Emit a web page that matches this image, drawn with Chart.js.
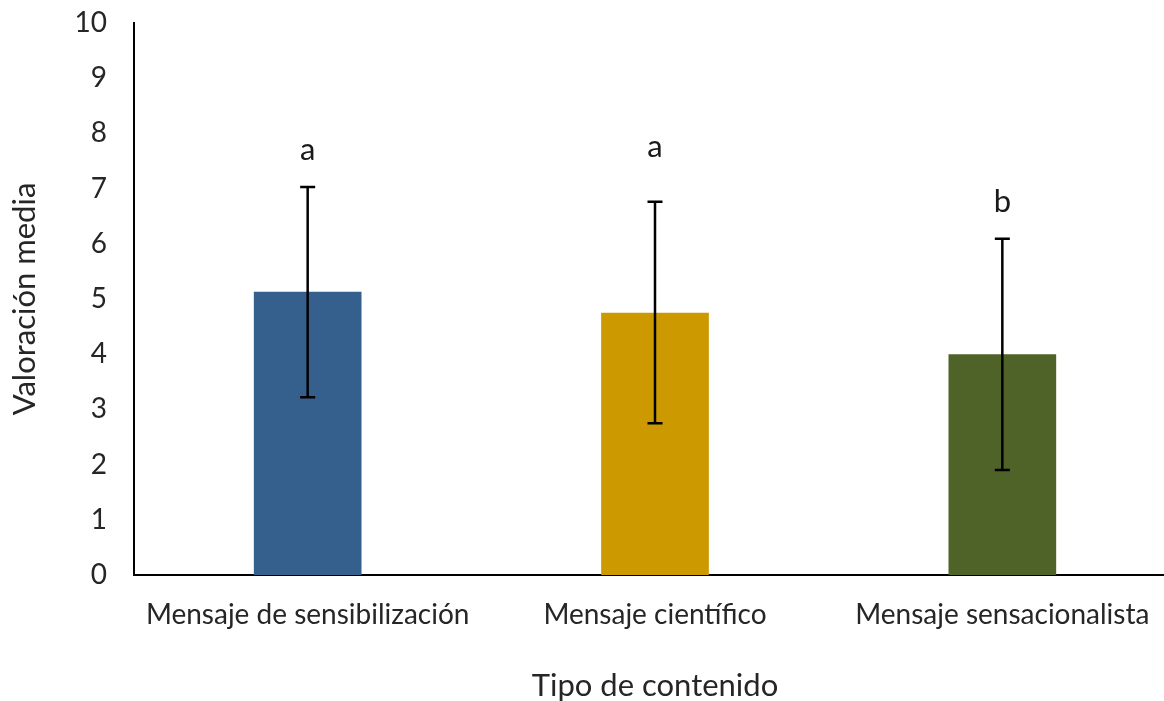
<!DOCTYPE html>
<html>
<head>
<meta charset="utf-8">
<script src="https://cdn.jsdelivr.net/npm/chart.js@4/dist/chart.umd.min.js"></script>
<style>
  html, body { margin: 0; padding: 0; background: #fff; overflow: hidden; }
  #wrap { width: 1176px; height: 701px; }
</style>
</head>
<body>
<div id="wrap"><canvas id="meanChart"></canvas></div>
<script>
// Data
const categories = ["Mensaje de sensibilización", "Mensaje científico", "Mensaje sensacionalista"];
const means = [5.13, 4.75, 4.0];
const errUpper = [7.03, 6.76, 6.09];
const errLower = [3.22, 2.75, 1.90];
const groupLetters = ["a", "a", "b"];
const letterPos = [7.7, 7.75, 6.75];
const barColors = ["#355F8D", "#CC9900", "#4F6228"];

const fontFamily = "Lato, 'Open Sans', sans-serif";

// error bars + significance letters
const errorBarPlugin = {
  id: 'errorBars',
  afterDatasetsDraw(chart) {
    const ctx = chart.ctx;
    const y = chart.scales.y;
    const bars = chart.getDatasetMeta(0).data;
    ctx.save();
    ctx.strokeStyle = '#000';
    ctx.lineWidth = 2.5;
    bars.forEach((bar, i) => {
      const yTop = y.getPixelForValue(errUpper[i]);
      const yBot = y.getPixelForValue(errLower[i]);
      const cap = 7.5;
      ctx.beginPath();
      ctx.moveTo(bar.x, yTop); ctx.lineTo(bar.x, yBot);
      ctx.moveTo(bar.x - cap, yTop); ctx.lineTo(bar.x + cap, yTop);
      ctx.moveTo(bar.x - cap, yBot); ctx.lineTo(bar.x + cap, yBot);
      ctx.stroke();
      ctx.fillStyle = '#1a1a1a';
      ctx.font = "31px " + fontFamily;
      ctx.textAlign = 'center';
      ctx.textBaseline = 'middle';
      ctx.fillText(groupLetters[i], bar.x, y.getPixelForValue(letterPos[i]));
    });
    ctx.restore();
  }
};

const ctx = document.getElementById('meanChart').getContext('2d');
new Chart(ctx, {
  type: 'bar',
  data: {
    labels: categories,
    datasets: [{
      data: means,
      backgroundColor: barColors,
      categoryPercentage: 1.0,
      barPercentage: 0.31
    }]
  },
  options: {
    responsive: true,
    maintainAspectRatio: false,
    animation: false,
    layout: { padding: 0 },
    plugins: { legend: { display: false }, tooltip: { enabled: false } },
    scales: {
      x: {
        grid: { display: false, drawTicks: false },
        border: { color: '#000', width: 2 },
        ticks: { color: '#262626', font: { family: fontFamily, size: 28 }, padding: 23, maxRotation: 0 },
        title: { display: true, text: 'Tipo de contenido', color: '#262626', font: { family: fontFamily, size: 31, lineHeight: 1 }, padding: { top: 39, bottom: 0 } },
        afterFit: s => { s.height = 126; s.paddingLeft = 0; s.paddingRight = 0; }
      },
      y: {
        min: 0, max: 10,
        grid: { display: false, drawTicks: false },
        border: { color: '#000', width: 2 },
        ticks: { stepSize: 1, color: '#262626', font: { family: fontFamily, size: 28 }, padding: 27 },
        title: { display: true, text: 'Valoración media', color: '#262626', font: { family: fontFamily, size: 31, lineHeight: 1 }, padding: { top: 9, bottom: 35 } },
        afterFit: s => { s.width = 134; s.paddingTop = 23; s.paddingBottom = 0; }
      }
    }
  },
  plugins: [errorBarPlugin]
});
</script>
</body>
</html>
